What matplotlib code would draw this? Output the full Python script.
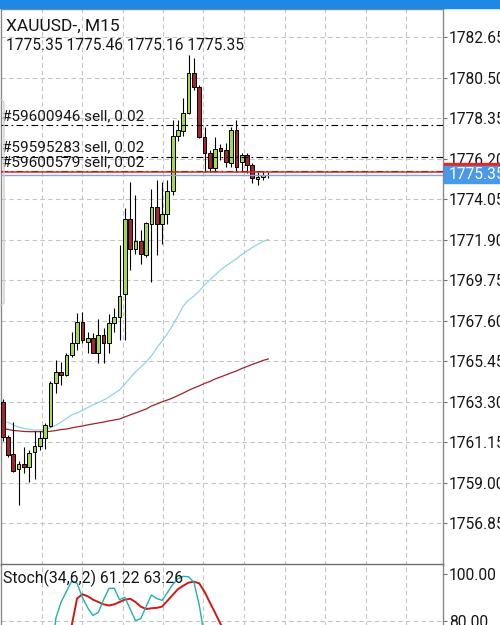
import matplotlib
matplotlib.use('Agg')
import matplotlib.pyplot as plt
from matplotlib.patches import Rectangle, FancyBboxPatch
from matplotlib.transforms import blended_transform_factory, IdentityTransform
import numpy as np

plt.rcParams['font.family'] = ['Roboto', 'DejaVu Sans']

# ---------------- data ----------------
symbol_title = "XAUUSD-, M15"
ohlc_text = "1775.35 1775.46 1775.16 1775.35"

opens = [1763.28, 1761.42, 1760.52, 1759.72, 1759.99, 1759.83, 1760.62, 1760.94, 1761.37, 1762.00,
         1764.28, 1764.87, 1764.71, 1765.77, 1766.41, 1767.52, 1766.46, 1766.67, 1765.88, 1766.83,
         1766.41, 1767.47, 1767.79, 1769.01, 1772.99, 1771.40, 1771.82, 1771.08, 1772.72, 1773.63,
         1772.72, 1773.25, 1774.48, 1777.40, 1777.66, 1778.62, 1780.74, 1780.00, 1777.34, 1776.49,
         1775.70, 1776.76, 1776.65, 1775.96, 1777.71, 1776.02, 1776.39, 1775.86, 1775.11, 1775.22,
         1775.35]
highs = [1763.43, 1761.52, 1762.21, 1760.15, 1760.89, 1760.73, 1761.74, 1761.74, 1762.16, 1764.39,
         1765.50, 1765.40, 1765.88, 1766.99, 1768.00, 1768.05, 1766.99, 1766.94, 1767.68, 1767.20,
         1767.95, 1768.27, 1771.61, 1773.57, 1774.95, 1774.26, 1772.41, 1772.83, 1774.58, 1775.06,
         1774.95, 1775.06, 1778.24, 1778.24, 1779.41, 1781.69, 1781.54, 1780.10, 1777.87, 1776.65,
         1777.34, 1776.97, 1777.02, 1777.87, 1778.24, 1776.49, 1776.49, 1775.96, 1775.48, 1775.54,
         1775.46]
lows = [1761.21, 1760.36, 1759.56, 1757.81, 1759.51, 1759.03, 1759.19, 1760.73, 1760.78, 1761.95,
        1763.75, 1764.18, 1764.66, 1765.67, 1766.04, 1766.41, 1765.88, 1765.85, 1765.35, 1765.35,
        1765.88, 1766.99, 1766.57, 1766.57, 1770.28, 1771.13, 1770.60, 1770.97, 1769.65, 1771.08,
        1771.66, 1772.72, 1774.26, 1777.13, 1777.40, 1778.55, 1779.84, 1777.30, 1775.48, 1775.48,
        1775.48, 1776.12, 1775.75, 1775.75, 1775.48, 1775.48, 1775.43, 1774.90, 1774.79, 1775.06,
        1775.16]
closes = [1761.42, 1760.46, 1759.61, 1759.99, 1759.83, 1760.57, 1760.94, 1761.37, 1762.06, 1764.28,
          1764.87, 1764.71, 1765.77, 1766.41, 1767.52, 1766.57, 1766.67, 1765.88, 1766.83, 1766.41,
          1767.47, 1767.79, 1768.90, 1772.99, 1771.40, 1771.82, 1771.13, 1772.78, 1773.63, 1772.72,
          1773.25, 1774.48, 1777.40, 1777.71, 1778.62, 1780.74, 1780.00, 1777.34, 1776.49, 1775.70,
          1776.71, 1776.60, 1776.02, 1777.71, 1775.75, 1776.39, 1775.86, 1775.17, 1775.22, 1775.33,
          1775.35]

ma_fast = [1762.27, 1762.19, 1762.06, 1761.95, 1761.87, 1761.82, 1761.79, 1761.79, 1761.79, 1761.92,
           1762.03, 1762.21, 1762.40, 1762.59, 1762.69, 1762.83, 1762.98, 1763.12, 1763.25, 1763.38,
           1763.54, 1763.73, 1763.91, 1764.23, 1764.55, 1764.87, 1765.13, 1765.40, 1765.72, 1766.14,
           1766.51, 1766.89, 1767.36, 1767.84, 1768.37, 1768.69, 1768.90, 1769.17, 1769.49, 1769.75,
           1770.02, 1770.28, 1770.50, 1770.68, 1770.87, 1771.11, 1771.29, 1771.48, 1771.64, 1771.80,
           1771.90]
ma_slow = [1761.87, 1761.82, 1761.76, 1761.74, 1761.71, 1761.70, 1761.70, 1761.70, 1761.70, 1761.72,
           1761.76, 1761.81, 1761.84, 1761.90, 1761.95, 1762.00, 1762.06, 1762.11, 1762.16, 1762.21,
           1762.27, 1762.32, 1762.37, 1762.48, 1762.59, 1762.69, 1762.80, 1762.90, 1763.06, 1763.17,
           1763.28, 1763.38, 1763.49, 1763.62, 1763.75, 1763.89, 1764.02, 1764.13, 1764.26, 1764.36,
           1764.50, 1764.60, 1764.71, 1764.82, 1764.92, 1765.05, 1765.16, 1765.27, 1765.37, 1765.48,
           1765.56]

stoch_main = [20, 12, 6, 5, 8, 14, 22, 30, 40, 60,
              81, 88, 92.5, 97, 96, 90, 85.5, 82.2, 83.5, 89,
              93.8, 93.9, 89, 90, 85, 80, 80.9, 86, 91, 89.5,
              88.7, 92, 95.5, 98, 99, 98.8, 96.5, 86.8, 73, 66,
              68, 67, 63, 70, 64, 66, 63, 58, 59, 60,
              61.22]
stoch_signal = [25, 20, 14, 9, 6, 9, 15, 22, 30, 40,
                52, 64, 72, 78, 89.5, 91.3, 90.5, 89, 88, 87,
                86.5, 87, 88, 89, 89.4, 88, 86, 85, 85.3, 85.5,
                86, 88.5, 91, 93.5, 95, 96.3, 96.7, 96, 92.4, 87.8,
                83.3, 78.7, 74, 70.5, 68.5, 67, 66, 64.5, 63.5, 63.3,
                63.26]

order_labels = ["#59600946 sell, 0.02", "#59595283 sell, 0.02", "#59600579 sell, 0.02"]
order_prices = [1777.98, 1776.30, 1775.52]
bid_price = 1775.35
ask_price = 1775.50

price_ticks = [1756.85, 1759.00, 1761.15, 1763.30, 1765.45, 1767.60, 1769.75,
               1771.90, 1774.05, 1776.20, 1778.35, 1780.50, 1782.65]
stoch_ticks = [100.00, 80.00]
stoch_title = "Stoch(34,6,2) 61.22 63.26"

# ---------------- figure ----------------
W, H = 500, 625
fig = plt.figure(figsize=(W / 100, H / 100), dpi=100)
fig.patch.set_facecolor('white')

def fx(px):
    return px / W

def fy(py):
    return 1 - py / H

GRID = dict(color='#C4C4C4', lw=0.8, ls=(0, (4, 3)))
SPINE = '#8A8A8A'
BULL = '#A2DA4C'
BEAR = '#A3262A'
TXT = '#151515'

idx = np.arange(len(opens))
xlim = (-0.414, 82.81)
vgrid = [7.34, 14.95, 22.6, 30.15, 37.8, 45.5, 53.2, 60.75, 68.4, 75.95]

# main panel: pixels x 0.5..442.5, y 9..565
ax = fig.add_axes([fx(0.5), fy(565), fx(442), (565 - 9) / H])
ax.set_xlim(*xlim)
ax.set_ylim(1754.62, 1784.14)

for v in vgrid:
    ax.axvline(v, zorder=0, **GRID)
for t in price_ticks:
    ax.axhline(t, zorder=0, **GRID)

# moving averages
ax.plot(idx, ma_fast, color='#8ED6E2', lw=0.9, zorder=2)
ax.plot(idx, ma_slow, color='#A0222C', lw=0.9, zorder=2)

# candles
o = np.array(opens); c = np.array(closes)
cols = [BULL if cc > oo else BEAR for oo, cc in zip(o, c)]
ax.vlines(idx, lows, highs, color='black', lw=0.8, zorder=3)
ax.bar(idx, c - o, bottom=o, width=0.7, color=cols, edgecolor='black', linewidth=0.7, zorder=4)

# order lines
for p in order_prices:
    ax.axhline(p, color='black', lw=0.8, ls=(0, (6, 3, 1.5, 3)), zorder=5)
ax.axhline(ask_price, color='#E0282A', lw=1.1, zorder=6)
ax.axhline(bid_price, color='#7EA8D4', lw=1.0, zorder=6)

ax.yaxis.tick_right()
ax.set_yticks(price_ticks)
ax.set_yticklabels([f"{t:.2f}" for t in price_ticks])
ax.tick_params(axis='y', direction='out', length=3, width=0.8, color='#707070',
               pad=1.5, labelsize=11.2, labelcolor=TXT)
ax.set_xticks([])
for s in ax.spines.values():
    s.set_color(SPINE)
    s.set_linewidth(1.0)

# price label boxes on the right axis
btr = blended_transform_factory(fig.transFigure, ax.transData)
px_per_unit = (565 - 9) / (1784.14 - 1754.62)
box_h = 17.5 / px_per_unit
ax.add_patch(Rectangle((fx(443.5), ask_price - box_h / 2), fx(60), box_h,
                       transform=btr, color='#E5262A', clip_on=False, zorder=10))
ax.add_patch(Rectangle((fx(443.5), bid_price - box_h / 2), fx(60), box_h,
                       transform=btr, color='#4A98EA', clip_on=False, zorder=11))
fig.text(fx(449), bid_price, f"{bid_price:.2f}", transform=btr, color='white',
         fontsize=11.2, va='center', ha='left', zorder=12)

# texts
fig.text(fx(6.5), fy(26), symbol_title, fontsize=12.5, va='center', ha='left', color=TXT)
fig.text(fx(6), fy(45.5), ohlc_text, fontsize=11.2, va='center', ha='left', color=TXT)
label_y = [116, 147, 162.5]
for lab, yy in zip(order_labels, label_y):
    fig.text(fx(2.5), fy(yy), lab, fontsize=11, va='center', ha='left', color=TXT)

# stochastic panel: pixels y 564.3 .. 720 (extends below the figure)
ax2 = fig.add_axes([fx(0.5), fy(720), fx(442), (720 - 564.3) / H])
ax2.set_xlim(*xlim)
ax2.set_ylim(37.4, 104.16)
for v in vgrid:
    ax2.axvline(v, zorder=0, **GRID)
ax2.axhline(80, zorder=0, **GRID)
ax2.plot(idx, stoch_main, color='#20B2AA', lw=1.0, zorder=3)
ax2.plot(idx, stoch_signal, color='#D01818', lw=1.4, zorder=2)
ax2.yaxis.tick_right()
ax2.set_yticks(stoch_ticks)
ax2.set_yticklabels([f"{t:.2f}" for t in stoch_ticks])
ax2.tick_params(axis='y', direction='out', length=3, width=0.8, color='#707070',
                pad=1.5, labelsize=11.2, labelcolor=TXT)
ax2.set_xticks([])
for s in ax2.spines.values():
    s.set_color(SPINE)
    s.set_linewidth(1.0)
ax2.spines['top'].set_color('#6E6E6E')
fig.text(fx(3.3), fy(578), stoch_title, fontsize=11.3, va='center', ha='left', color=TXT)

# top blue bar and left slider handle
fig.add_artist(Rectangle((0, fy(7.5)), 1, 7.5 / H, transform=fig.transFigure,
                         color='#1E88E5', zorder=20))
fig.add_artist(FancyBboxPatch((-20, H - 305), 24, 205,
                              boxstyle="round,pad=0,rounding_size=4",
                              transform=IdentityTransform(), facecolor='none',
                              edgecolor='#CFCFCF', lw=1.0, zorder=20))

fig.savefig('out.png', dpi=100, facecolor='white')
